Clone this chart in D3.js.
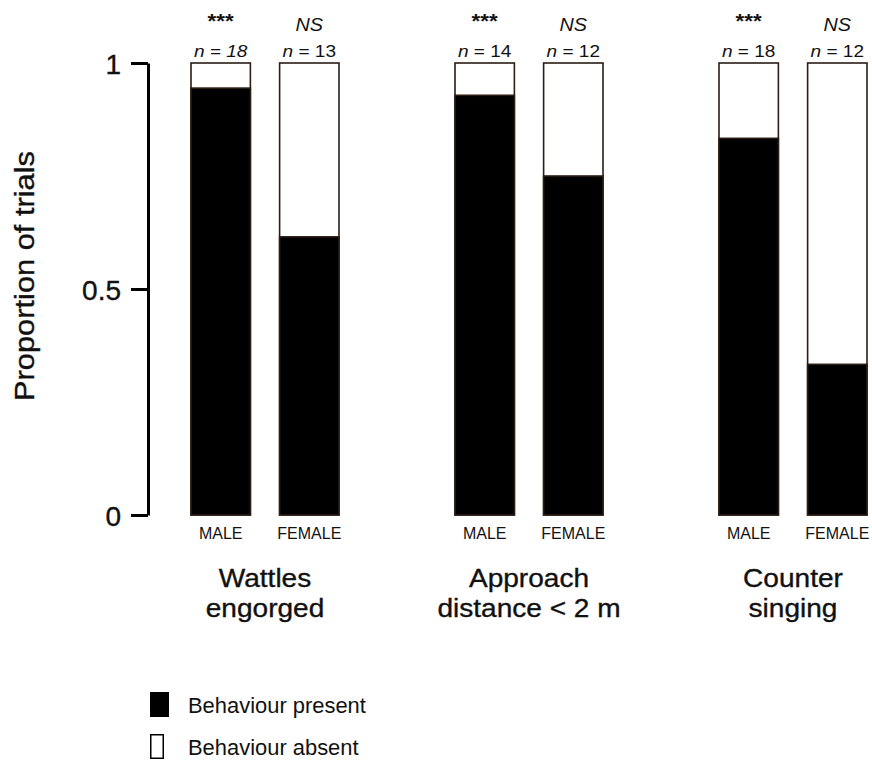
<!DOCTYPE html>
<html>
<head>
<meta charset="utf-8">
<title>Proportion of trials</title>
<script src="https://d3js.org/d3.v7.min.js"></script>
<style>
  body { margin: 0; background: #fff; }
  svg text { font-family: "Liberation Sans", Arial, sans-serif; fill: #111; }
  svg text.heavy { stroke: #111; stroke-width: 0.35; }
</style>
</head>
<body>
<div id="chart"></div>
<script>
// data
const behaviours = ["Wattles engorged", "Approach distance < 2 m", "Counter singing"];
const behaviourLines = [["Wattles", "engorged"], ["Approach", "distance < 2 m"], ["Counter", "singing"]];
const sexes = ["MALE", "FEMALE"];
const present = [[17 / 18, 8 / 13], [13 / 14, 9 / 12], [15 / 18, 4 / 12]];
const sampleN = [[18, 13], [14, 12], [18, 12]];
const signif = ["***", "***", "***"];
const yTicks = [0, 0.5, 1];
const yTickLabels = ["0", "0.5", "1"];

const W = 872, H = 760;
const svg = d3.select("#chart").append("svg")
    .attr("width", W)
    .attr("height", H);

const x0 = d3.scaleBand()
    .domain(behaviours)
    .range([191, 867])
    .paddingInner(116 / 264)
    .paddingOuter(0);

const x1 = d3.scaleBand()
    .domain(sexes)
    .range([0, x0.bandwidth()])
    .paddingInner(0.33)
    .paddingOuter(0);

const y = d3.scaleLinear()
    .domain([0, 1])
    .range([515, 63]);

// flatten
const bars = [];
behaviours.forEach((b, i) => {
  sexes.forEach((s, j) => {
    bars.push({ b, s, i, j, p: present[i][j], n: sampleN[i][j] });
  });
});

const g = svg.selectAll(".bar")
  .data(bars)
  .join("g")
    .attr("class", "bar")
    .attr("transform", d => `translate(${x0(d.b) + x1(d.s)},0)`);

// absent (full bar, white)
g.append("rect")
    .attr("x", 0)
    .attr("width", x1.bandwidth())
    .attr("y", y(1))
    .attr("height", y(0) - y(1))
    .attr("fill", "#fff")
    .attr("stroke", "#2b1d14")
    .attr("stroke-width", 1.6);

// present (black)
g.append("rect")
    .attr("x", 0)
    .attr("width", x1.bandwidth())
    .attr("y", d => y(d.p))
    .attr("height", d => y(0) - y(d.p))
    .attr("fill", "#000")
    .attr("stroke", "#2b1d14")
    .attr("stroke-width", 1.6);

const mid = x1.bandwidth() / 2;

// sex labels
g.append("text")
    .attr("transform", `translate(${mid},539)`)
    .attr("text-anchor", "middle")
    .attr("font-size", 16)
    .text(d => d.s);

// n labels
const nt = g.append("text")
    .attr("transform", `translate(${mid},57) scale(1.12,1)`)
    .attr("text-anchor", "middle")
    .attr("font-size", 17);
nt.append("tspan").attr("font-style", "italic").text("n");
nt.append("tspan").attr("font-style", d => d.i === 0 && d.j === 0 ? "italic" : "normal")
    .text(d => " = " + d.n);

// significance labels
g.append("text")
    .attr("transform", d => d.j === 0 ? `translate(${mid},28) scale(1.12,1)` : `translate(${mid},31) scale(1.1,1)`)
    .attr("text-anchor", "middle")
    .attr("font-size", d => d.j === 0 ? 20 : 18)
    .attr("font-style", d => d.j === 0 ? "normal" : "italic")
    .attr("font-weight", d => d.j === 0 ? "bold" : "normal")
    .text(d => d.j === 0 ? signif[d.i] : "NS");

// group labels
behaviours.forEach((b, i) => {
  const t = svg.append("text")
      .attr("class", "heavy")
      .attr("transform", `translate(${x0(b) + x0.bandwidth() / 2},587) scale(1.1,1)`)
      .attr("text-anchor", "middle")
      .attr("font-size", 25.5);
  behaviourLines[i].forEach((line, k) => {
    t.append("tspan")
        .attr("x", 0)
        .attr("dy", k === 0 ? 0 : 30)
        .text(line);
  });
});

// y axis
const yAxis = svg.append("g")
    .attr("transform", "translate(148,0)")
    .call(d3.axisLeft(y).tickValues(yTicks).tickFormat((d, i) => yTickLabels[i]).tickSize(17).tickSizeOuter(0).tickPadding(10));
yAxis.select(".domain").attr("stroke", "#000").attr("stroke-width", 3);
yAxis.selectAll(".tick line").attr("stroke", "#000").attr("stroke-width", 3);
yAxis.selectAll(".tick text")
    .attr("class", "heavy")
    .attr("font-size", 28)
    .attr("dy", "0.38em")
    .style("font-family", "'Liberation Sans', Arial, sans-serif")
    .attr("fill", "#111");

svg.append("text")
    .attr("class", "heavy")
    .attr("transform", "translate(34,276) rotate(-90) scale(1.12,1)")
    .attr("text-anchor", "middle")
    .attr("font-size", 27.5)
    .text("Proportion of trials");

// legend
const legendItems = [["Behaviour present", "#000", 19], ["Behaviour absent", "#fff", 14]];
const lg = svg.selectAll(".legend")
  .data(legendItems)
  .join("g")
    .attr("class", "legend")
    .attr("transform", (d, i) => `translate(150,${692 + i * 42})`);
lg.append("rect")
    .attr("x", 0.75)
    .attr("y", 0.75)
    .attr("width", d => d[2] - 1.5)
    .attr("height", 23.5)
    .attr("fill", d => d[1])
    .attr("stroke", "#000")
    .attr("stroke-width", 1.5);
lg.append("text")
    .attr("transform", "translate(38,21) scale(1.02,1)")
    .attr("font-size", 21.5)
    .text(d => d[0]);
</script>
</body>
</html>
